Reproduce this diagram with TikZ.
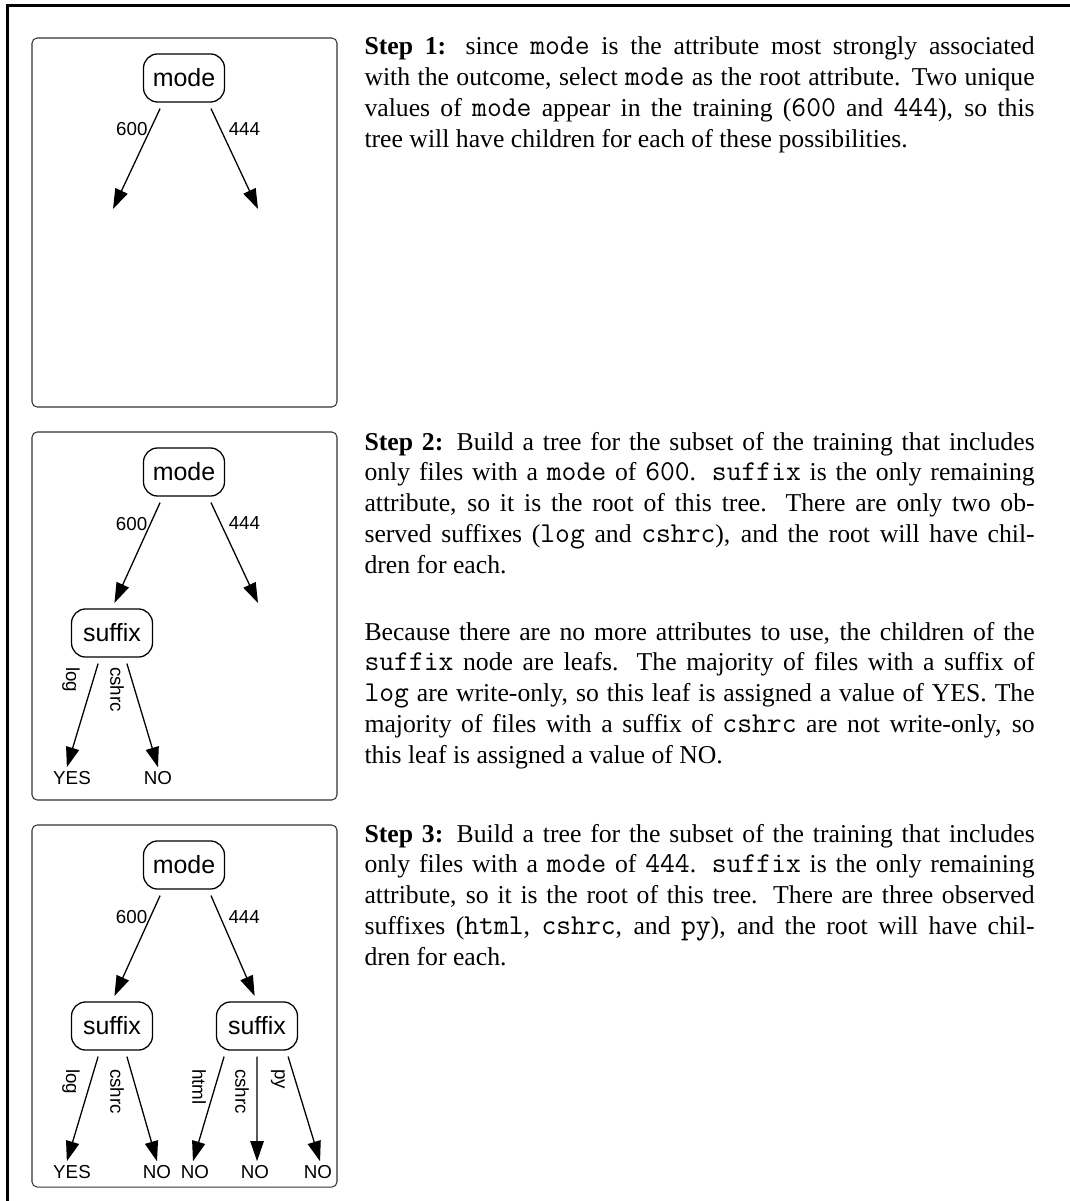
\documentclass[tikz,border=0pt]{standalone}
\usepackage{fontspec}
\setmainfont{Liberation Serif}
\setmonofont{Latin Modern Mono}[Scale=1.12]
\newfontfamily\helv{Liberation Sans}
\usepackage{tikz}
\usetikzlibrary{arrows.meta, calc}

\newcommand{\code}[1]{\texttt{#1}}

\begin{document}
\begin{tikzpicture}[
  x=0.389pt, y=-0.389pt,
  attr/.style    = {draw, rounded corners=5.5pt, line width=0.5pt,
                    minimum width=31.5pt, minimum height=18.7pt, inner sep=1pt,
                    font=\helv\fontsize{9.7}{11}\selectfont},
  lbl/.style     = {inner sep=1pt, font=\helv\fontsize{7.3}{8.6}\selectfont},
  leaf/.style    = {inner sep=1.4pt, font=\helv\fontsize{7.3}{8.6}\selectfont},
  arr/.style     = {-{Triangle[length=7.8pt, width=5.2pt]}, line width=0.5pt},
  panel/.style   = {draw=black!80, line width=0.4pt, rounded corners=2pt},
  stepbox/.style = {text width=260.7pt, align=justify, inner sep=0pt, anchor=base west},
]
\useasboundingbox (0,0) rectangle (1070,1201);

% ── Frame ────────────────────────────────────────────────────────────────────
\draw[line width=1.2pt] (7.5,1201) -- (7.5,5.3) -- (1070,5.3);

% ── Step 1: root only ────────────────────────────────────────────────────────
\draw[panel] (32,38) rectangle (337,407);
\node[attr] (mode1) at (184,78) {mode};
\coordinate (end600a) at (113,209);
\coordinate (end444a) at (258,209);
\draw[arr] ([xshift=-9.3pt,yshift=-2.3pt]mode1.south) -- node[lbl, pos=0.2, left] (v600a) {600} (end600a);
\draw[arr] ([xshift=10.5pt,yshift=-2.3pt]mode1.south) -- node[lbl, pos=0.2, right=2pt] (v444a) {444} (end444a);

\node[stepbox] (step1) at (364,55)
  {\textbf{Step 1:} since \code{mode} is the attribute most strongly associated\linebreak
   with the outcome, select \code{mode} as the root attribute. Two unique\linebreak
   values of \code{mode} appear in the training (\code{600} and \code{444}), so this\linebreak
   tree will have children for each of these possibilities.};

% ── Step 2: the 600 branch ───────────────────────────────────────────────────
\draw[panel] (32,432) rectangle (337,800);
\node[attr] (mode2) at (184,472) {mode};
\node[attr] (sfx2)  at (112,633) {suffix};
\coordinate (end444b) at (258,603);
\draw[arr, shorten >=2.3pt] ([xshift=-9.3pt,yshift=-2.3pt]mode2.south) -- node[lbl, pos=0.2, left] (v600b) {600} (sfx2.north);
\draw[arr] ([xshift=10.5pt,yshift=-2.3pt]mode2.south) -- node[lbl, pos=0.2, right=2pt] (v444b) {444} (end444b);

\node[leaf] (yes2) at (72,778)  {YES};
\node[leaf] (no2)  at (158,778) {NO};
\draw[arr] ([xshift=-5.4pt,yshift=-2.3pt]sfx2.south) -- ([xshift=-2pt]yes2.north);
\draw[arr] ([xshift=5.8pt,yshift=-2.3pt]sfx2.south)  -- (no2.north);
\node[lbl, rotate=-90, anchor=west] (vlog2)   at (71,664)  {log};
\node[lbl, rotate=-90, anchor=west] (vcshrc2) at (117,664) {cshrc};

\node[stepbox] (step2) at (364,450)
  {\textbf{Step 2:} Build a tree for the subset of the training that includes\linebreak
   only files with a \code{mode} of \code{600}. \code{suffix} is the only remaining\linebreak
   attribute, so it is the root of this tree.  There are only two ob-\linebreak
   served suffixes (\code{log} and \code{cshrc}), and the root will have chil-\linebreak
   dren for each.};
\node[stepbox] (step2b) at (364,640)
  {Because there are no more attributes to use, the children of the\linebreak
   \code{suffix} node are leafs. The majority of files with a suffix of\linebreak
   \code{log} are write-only, so this leaf is assigned a value of YES. The\linebreak
   majority of files with a suffix of \code{cshrc} are not write-only, so\linebreak
   this leaf is assigned a value of NO.};

% ── Step 3: the 444 branch ───────────────────────────────────────────────────
\draw[panel] (32,825) rectangle (337,1187);
\node[attr] (mode3) at (184,865)  {mode};
\node[attr] (sfx3a) at (112,1026) {suffix};
\node[attr] (sfx3b) at (257,1026) {suffix};
\draw[arr, shorten >=2.3pt] ([xshift=-9.3pt,yshift=-2.3pt]mode3.south) -- node[lbl, pos=0.2, left] (v600c) {600} (sfx3a.north);
\draw[arr, shorten >=2.3pt] ([xshift=10.5pt,yshift=-2.3pt]mode3.south) -- node[lbl, pos=0.2, right=2pt] (v444c) {444} (sfx3b.north);

\node[leaf] (yes3) at (72,1172)  {YES};
\node[leaf] (no3a) at (157,1172) {NO};
\node[leaf] (no3b) at (195,1172) {NO};
\node[leaf] (no3c) at (255,1172) {NO};
\node[leaf] (no3d) at (318,1172) {NO};
\draw[arr] ([xshift=-5.4pt,yshift=-2.3pt]sfx3a.south)  -- ([xshift=-2pt]yes3.north);
\draw[arr] ([xshift=5.8pt,yshift=-2.3pt]sfx3a.south)   -- (no3a.north);
\draw[arr] ([xshift=-12.8pt,yshift=-2.3pt]sfx3b.south) -- ([xshift=-0.8pt]no3b.north);
\draw[arr] ([yshift=-2.3pt]sfx3b.south)                -- ([xshift=0.8pt]no3c.north);
\draw[arr] ([xshift=12.1pt,yshift=-2.3pt]sfx3b.south)  -- ([xshift=0.8pt]no3d.north);
\node[lbl, rotate=-90, anchor=west] (vlog3)    at (71,1066)  {log};
\node[lbl, rotate=-90, anchor=west] (vcshrc3)  at (117,1066) {cshrc};
\node[lbl, rotate=-90, anchor=west] (vhtml3)   at (199,1066) {html};
\node[lbl, rotate=-90, anchor=west] (vcshrc3b) at (242,1066) {cshrc};
\node[lbl, rotate=-90, anchor=west] (vpy3)     at (278,1066) {py};

\node[stepbox] (step3) at (364,842)
  {\textbf{Step 3:} Build a tree for the subset of the training that includes\linebreak
   only files with a \code{mode} of \code{444}. \code{suffix} is the only remaining\linebreak
   attribute, so it is the root of this tree.  There are three observed\linebreak
   suffixes (\code{html}, \code{cshrc}, and \code{py}), and the root will have chil-\linebreak
   dren for each.};

\end{tikzpicture}
\end{document}
